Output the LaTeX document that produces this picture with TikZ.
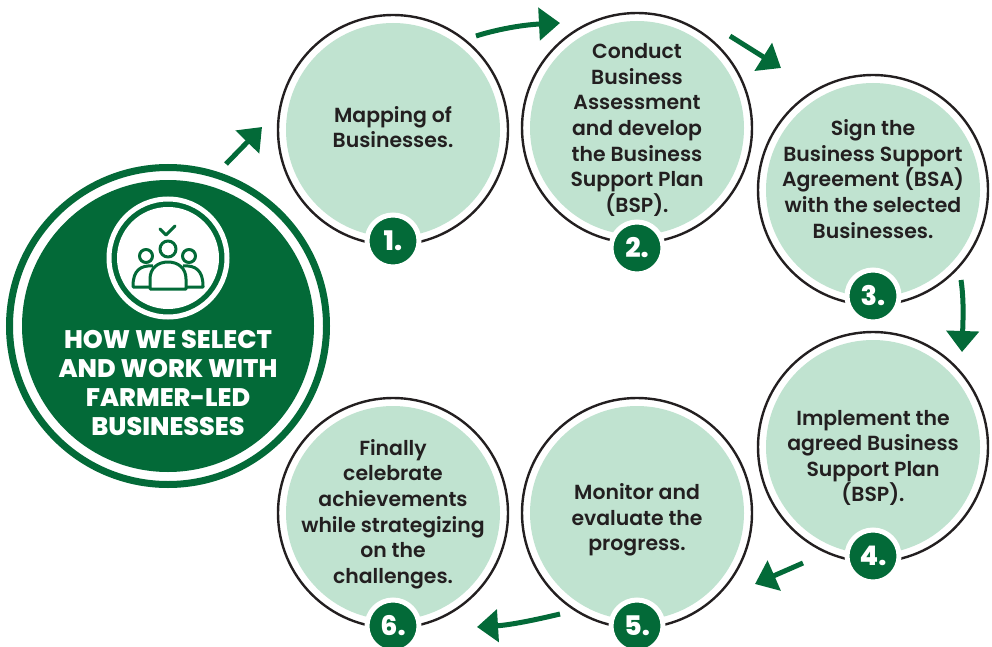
\documentclass[tikz,border=0pt]{standalone}
\usepackage{fontspec}
\setmainfont{Poppins}[UprightFont=* SemiBold,BoldFont=* ExtraBold]
\usetikzlibrary{arrows.meta}
\definecolor{gdark}{HTML}{036A38}
\definecolor{gpale}{HTML}{C0E3D0}
\definecolor{inkc}{HTML}{231F20}
\tikzset{x=1pt,y=-1pt,
 stepc/.style={circle,draw=inkc,line width=2.4pt,fill=white,minimum size=230pt,inner sep=0pt,outer sep=0pt},
 stepf/.style={circle,fill=gpale,minimum size=214pt,inner sep=0pt},
 steptext/.style={align=center,text=inkc,inner sep=0pt,font=\fontsize{20.4}{25.6}\selectfont},
 badge/.style={circle,fill=gdark,draw=white,line width=5pt,minimum size=52pt,inner sep=0pt,text=white,font=\fontsize{27}{27}\bfseries\selectfont},
 flow/.style={draw=gdark,fill=none,line width=5pt,-{Triangle[length=21pt,width=32pt,fill=gdark]},shorten >=0pt},
 icon/.style={draw=gdark,line width=3pt,line join=round}
}
\begin{document}
\begin{tikzpicture}
\useasboundingbox (0,0) rectangle (992,647);
% start disc
\node[circle,draw=gdark,line width=7pt,minimum size=317pt,fill=white,inner sep=0pt] (start) at (168,326) {};
\node[circle,fill=gdark,minimum size=292pt,inner sep=0pt] (disc) at (168,326) {};
\node[circle,draw=white,line width=5pt,fill=gdark,minimum size=118pt,inner sep=0pt] (ring) at (168,258) {};
\node[circle,fill=white,minimum size=102pt,inner sep=0pt] (hole) at (168,258) {};
\node[align=center,text=white,font=\fontsize{25.4}{28.8}\bfseries\selectfont] (title) at (168,383) {HOW WE SELECT\\AND WORK WITH\\FARMER-LED\\BUSINESSES};
% icon
\draw[icon,line cap=round] (160,229) -- (166,235) -- (175,226);
\draw[icon] (168,249) circle (8);
\draw[icon] (146,256) circle (6.5);
\draw[icon] (189,256) circle (6.5);
\draw[icon] (153,266) .. controls (141,265) and (133,270) .. (133,286) -- (133,287) -- (150,287);
\draw[icon] (183,266) .. controls (195,265) and (203,270) .. (203,286) -- (203,287) -- (186,287);
\draw[icon] (150,289) -- (150,279) .. controls (150,268) and (158,262) .. (168,262) .. controls (178,262) and (186,268) .. (186,279) -- (186,289) -- cycle;
% steps
\foreach \n/\x/\y in {1/393/130,2/637/128,3/873/190,4/873/447,5/637/513,6/393/513}{
 \node[stepc] (c\n) at (\x,\y) {};
 \node[stepf] (f\n) at (\x,\y) {};
}
\node[steptext] (s1) at (393,127) {Mapping of\\Businesses.};
\node[steptext] (s2) at (637,130) {Conduct\\Business\\Assessment\\and develop\\the Business\\Support Plan\\(BSP).};
\node[steptext] (s3) at (873,179) {Sign the\\Business Support\\Agreement (BSA)\\with the selected\\Businesses.};
\node[steptext] (s4) at (873,458) {Implement the\\agreed Business\\Support Plan\\(BSP).};
\node[steptext] (s5) at (637,520) {Monitor and\\evaluate the\\progress.};
\node[steptext] (s6) at (393,514) {Finally\\celebrate\\achievements\\while strategizing\\on the\\challenges.};
\node[badge] (b1) at (393,241) {1.};
\node[badge] (b2) at (637,248) {2.};
\node[badge] (b3) at (873,296) {3.};
\node[badge] (b4) at (873,556) {4.};
\node[badge] (b5) at (637,626) {5.};
\node[badge] (b6) at (393,626) {6.};
% arrows
\coordinate (a1) at (226,164); \coordinate (a2) at (262,127);
\coordinate (a3) at (476,36); \coordinate (a4) at (560,23);
\coordinate (a5) at (730,36); \coordinate (a6) at (781,68);
\coordinate (a7) at (961,280); \coordinate (a8) at (962,352);
\coordinate (a9) at (803,563); \coordinate (a10) at (755,584);
\coordinate (a11) at (560,614); \coordinate (a12) at (477,627);
\draw[flow] (a1) -- (a2);
\draw[flow] (a3) .. controls (495,30) and (520,25) .. (a4);
\draw[flow] (a5) -- (a6);
\draw[flow] (a7) .. controls (964,300) and (963,320) .. (a8);
\draw[flow] (a9) -- (a10);
\draw[flow] (a11) .. controls (535,620) and (510,625) .. (a12);
\end{tikzpicture}
\end{document}
